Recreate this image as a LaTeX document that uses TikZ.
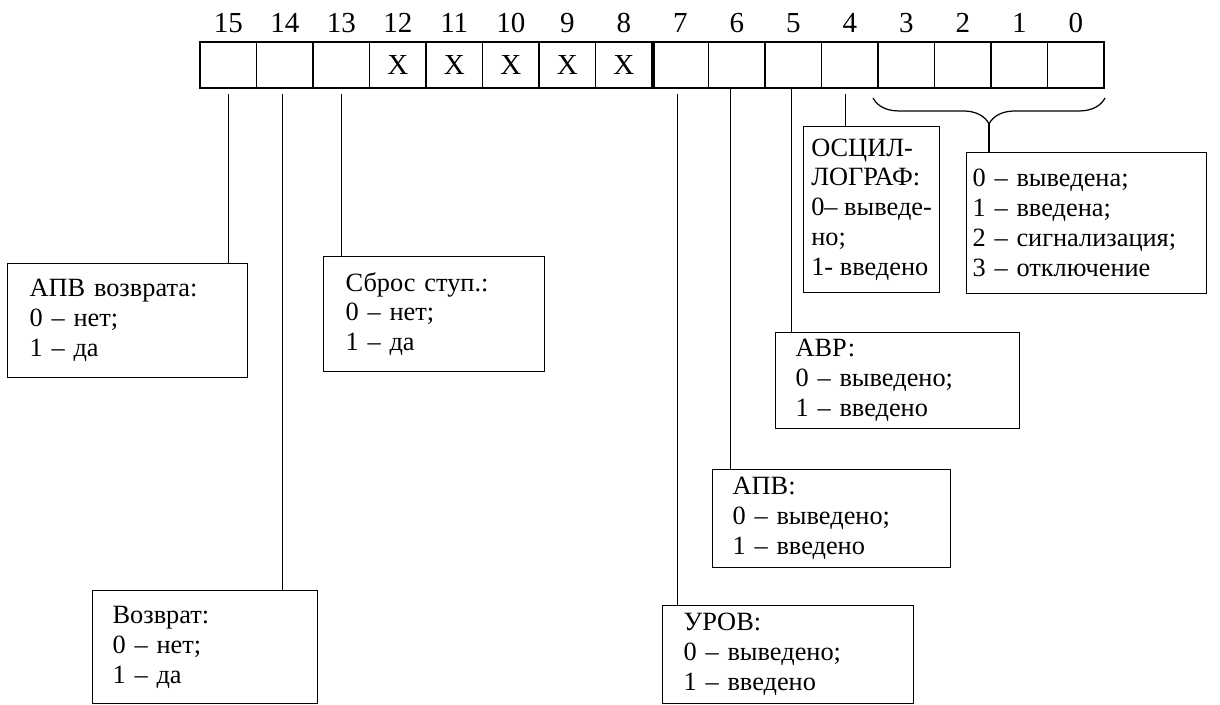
\documentclass[tikz,border=0pt]{standalone}
\usepackage{fontspec}
\setmainfont{Liberation Serif}
\usetikzlibrary{decorations.pathreplacing,calc}
\newcommand{\infofont}{\fontsize{15}{17}\selectfont}
\newcommand{\bitfont}{\fontsize{16.5}{18}\selectfont}
\tikzset{
  bitcell/.style={draw, line width=1.1pt, minimum width=1.13cm, minimum height=0.92cm, inner sep=0pt, font=\bitfont},
  infobox/.style={draw, line width=0.7pt, anchor=north west, align=left, inner ysep=0pt, font=\infofont},
  link/.style={line width=0.7pt},
}
\begin{document}
\begin{tikzpicture}[x=0.02cm, y=-0.02cm]
    \useasboundingbox (0,0) rectangle (1220,704);
    % Register: 16 Bit
    \foreach \b in {0,...,15} {
        \node[bitcell] (cell\b) at ({200+(15.5-\b)*56.5},65) {\ifnum\b>7 \ifnum\b<13 X\fi\fi};
        \node[font=\bitfont] (num\b) at ({200+(15.5-\b)*56.5},23) {\b};
    }
    \draw[line width=2pt] (cell8.north east) -- (cell8.south east);

    % Beschreibungen
    \node[infobox, inner xsep=0.44cm, text width=3.92cm, minimum height=2.28cm] (apvv) at (7,263) {АПВ возврата:\\0 – нет;\\1 – да};
    \node[infobox, inner xsep=0.4cm, text width=3.7cm, minimum height=2.26cm] (vozvr) at (92,590) {Возврат:\\0 – нет;\\1 – да};
    \node[infobox, inner xsep=0.44cm, text width=3.54cm, minimum height=2.3cm] (sbros) at (323,256) {Сброс ступ.:\\0 – нет;\\1 – да};
    \node[infobox, inner xsep=0.42cm, text width=4.18cm, minimum height=1.96cm] (urov) at (662,605) {УРОВ:\\0 – выведено;\\1 – введено};
    \node[infobox, inner xsep=0.4cm, text width=3.96cm, minimum height=1.96cm] (apv) at (712,469) {АПВ:\\0 – выведено;\\1 – введено};
    \node[infobox, inner xsep=0.4cm, text width=4.08cm, minimum height=1.92cm] (avr) at (775,332) {АВР:\\0 – выведено;\\1 – введено};
    \node[infobox, inner xsep=0.1cm, minimum width=2.72cm, minimum height=3.32cm] (osc) at (803,126) {ОСЦИЛ-\\ЛОГРАФ:\\0– выведе-\\но;\\1- введено};
    \node[infobox, inner xsep=0.12cm, text width=4.56cm, minimum height=2.82cm] (modes) at (966,152) {0 – выведена;\\1 – введена;\\2 – сигнализация;\\3 – отключение};

    % Verbindungen
    \foreach \b/\dx/\gap/\target in {15/0/5/apvv, 14/-2/5/vozvr, 13/0/5/sbros, 7/-3/5/urov, 6/-6/0/apv, 5/-2/0/avr, 4/-4/5/osc} {
        \coordinate (top\b) at ($(cell\b.south)+(\dx,\gap)$);
        \draw[link] (top\b) -- (top\b |- \target.north);
    }

    % Klammer fuer Bit 3..0
    \draw[link, decorate, decoration={brace, mirror, amplitude=0.52cm}] ($(cell3.south west)+(-4,9)$) -- ($(cell0.south east)+(0,9)$);
    \coordinate (tip) at ($(cell3.south west)!0.5!(cell0.south east)+(-2,35)$);
    \draw[link] (tip) -- (tip |- modes.north);
\end{tikzpicture}
\end{document}
